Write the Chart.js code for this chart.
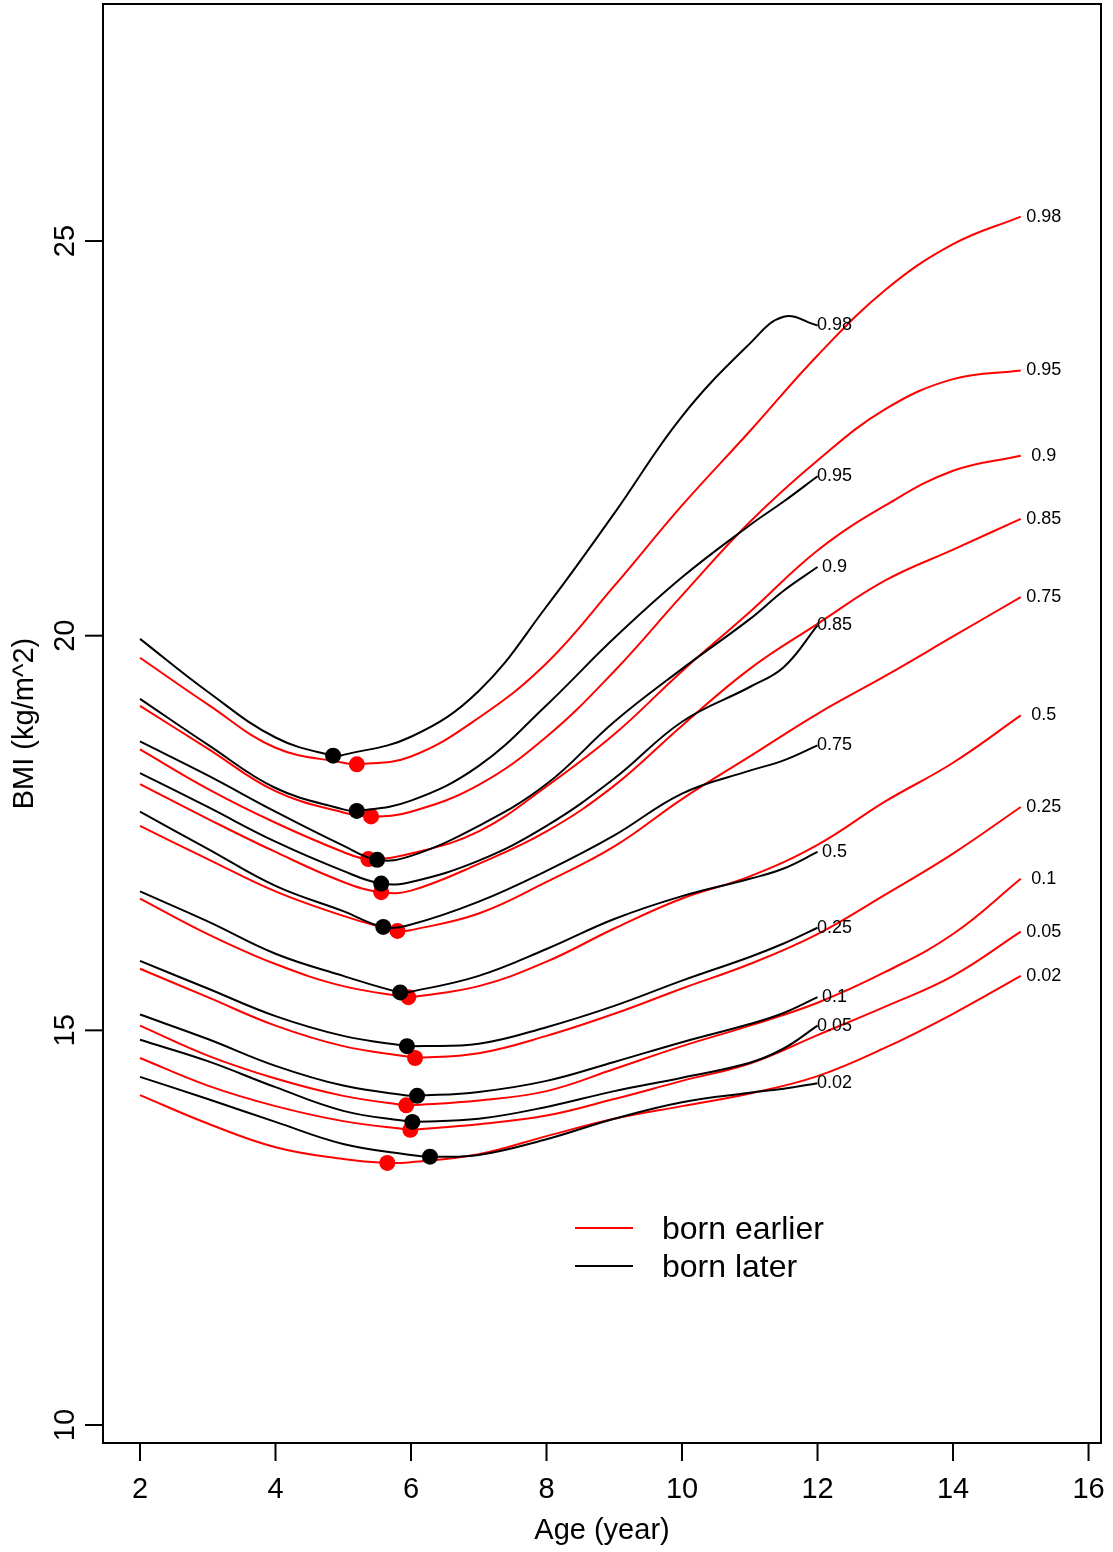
<!DOCTYPE html>
<html>
<head>
<meta charset="utf-8">
<title>BMI quantile curves</title>
<script src="https://cdn.jsdelivr.net/npm/chart.js@4.4.0/dist/chart.umd.min.js"></script>
<style>
  html, body { margin: 0; padding: 0; background: #fff; }
  canvas { display: block; }
</style>
</head>
<body>
<canvas id="bmiChart" width="1113" height="1552"></canvas>
<script>
// Quantiles, lowest to highest
const quantiles = ['0.02', '0.05', '0.1', '0.25', '0.5', '0.75', '0.85', '0.9', '0.95', '0.98'];

// Born earlier: BMI at each age
const earlierAges = [2, 3, 4, 5, 6, 7, 8, 9, 10, 11, 12, 13, 14, 15];
const earlier02 = [14.18, 13.82, 13.52, 13.37, 13.33, 13.43, 13.66, 13.88, 14.04, 14.20, 14.42, 14.78, 15.21, 15.69];
const earlier05 = [14.65, 14.30, 14.04, 13.85, 13.74, 13.81, 13.92, 14.13, 14.36, 14.58, 14.94, 15.30, 15.69, 16.25];
const earlier10 = [15.06, 14.68, 14.39, 14.17, 14.05, 14.11, 14.23, 14.51, 14.80, 15.06, 15.35, 15.74, 16.22, 16.92];
const earlier25 = [15.78, 15.42, 15.06, 14.80, 14.66, 14.71, 14.93, 15.21, 15.53, 15.84, 16.22, 16.72, 17.24, 17.83];
const earlier50 = [16.67, 16.22, 15.84, 15.56, 15.42, 15.56, 15.87, 16.29, 16.67, 16.95, 17.35, 17.90, 18.39, 18.99];
const earlier75 = [17.59, 17.17, 16.76, 16.45, 16.27, 16.48, 16.88, 17.33, 17.93, 18.47, 19.01, 19.49, 19.99, 20.49];
const earlier85 = [18.12, 17.68, 17.26, 16.88, 16.77, 17.11, 17.52, 18.10, 18.86, 19.58, 20.15, 20.70, 21.09, 21.48];
const earlier90 = [18.56, 18.06, 17.63, 17.26, 17.24, 17.52, 18.09, 18.75, 19.55, 20.30, 21.08, 21.65, 22.09, 22.28];
const earlier95 = [19.11, 18.57, 18.03, 17.76, 17.77, 18.11, 18.72, 19.55, 20.51, 21.44, 22.22, 22.87, 23.25, 23.36];
const earlier98 = [19.72, 19.13, 18.58, 18.39, 18.47, 18.96, 19.65, 20.63, 21.65, 22.59, 23.55, 24.38, 24.96, 25.31];

// Born later: BMI at each age
const laterAges = [2, 3, 4, 5, 6, 7, 8, 9, 10, 11, 11.5, 12];
const later02 = [14.41, 14.13, 13.84, 13.56, 13.42, 13.42, 13.62, 13.88, 14.09, 14.21, 14.26, 14.33];
const later05 = [14.88, 14.61, 14.28, 13.98, 13.84, 13.88, 14.03, 14.23, 14.40, 14.59, 14.77, 15.06];
const later10 = [15.20, 14.89, 14.55, 14.30, 14.17, 14.22, 14.36, 14.60, 14.85, 15.08, 15.22, 15.42];
const later25 = [15.88, 15.53, 15.18, 14.93, 14.80, 14.83, 15.04, 15.31, 15.63, 15.93, 16.10, 16.30];
const later50 = [16.76, 16.38, 15.97, 15.69, 15.49, 15.69, 16.03, 16.41, 16.70, 16.92, 17.05, 17.26];
const later75 = [17.77, 17.30, 16.83, 16.51, 16.34, 16.63, 17.02, 17.47, 18.00, 18.29, 18.42, 18.61];
const later85 = [18.26, 17.83, 17.39, 17.02, 16.88, 17.15, 17.59, 18.19, 18.91, 19.35, 19.60, 20.13];
const later90 = [18.66, 18.23, 17.77, 17.34, 17.21, 17.59, 18.12, 18.91, 19.58, 20.21, 20.57, 20.87];
const later95 = [19.20, 18.62, 18.07, 17.80, 17.91, 18.35, 19.12, 19.97, 20.74, 21.40, 21.70, 22.02];
const later98 = [19.96, 19.29, 18.71, 18.49, 18.72, 19.30, 20.37, 21.55, 22.78, 23.70, 24.04, 23.93];

// Minimum of each curve (adiposity rebound), same order as quantiles
const earlierReboundAge = [5.65, 5.99, 5.93, 6.06, 5.96, 5.80, 5.56, 5.37, 5.41, 5.20];
const earlierReboundBmi = [13.32, 13.74, 14.05, 14.65, 15.42, 16.26, 16.75, 17.17, 17.71, 18.37];
const laterReboundAge = [6.28, 6.02, 6.09, 5.94, 5.84, 5.59, 5.56, 5.50, 5.20, 4.85];
const laterReboundBmi = [13.40, 13.84, 14.17, 14.80, 15.48, 16.31, 16.86, 17.16, 17.78, 18.48];

const xTicks = [2, 4, 6, 8, 10, 12, 14, 16];
const yTicks = [10, 15, 20, 25];

const earlierSeries = [earlier02, earlier05, earlier10, earlier25, earlier50, earlier75, earlier85, earlier90, earlier95, earlier98];
const laterSeries = [later02, later05, later10, later25, later50, later75, later85, later90, later95, later98];

const RED = '#ff0000';
const BLACK = '#000000';
const FONT = '"Liberation Sans", Arial, Helvetica, sans-serif';

// curve points plus the rebound point, in age order
function curvePoints(ages, values, rAge, rBmi) {
    const pts = ages.map((a, i) => ({ x: a, y: values[i] }));
    pts.push({ x: rAge, y: rBmi });
    pts.sort((p, q) => p.x - q.x);
    return pts;
}

function lineSet(ages, values, rAge, rBmi, color, order) {
    return {
        data: curvePoints(ages, values, rAge, rBmi),
        showLine: true,
        borderColor: color,
        borderWidth: 2,
        pointRadius: 0,
        tension: 0.4,
        order: order
    };
}

function dotSet(ageArr, bmiArr, color, order) {
    return {
        data: ageArr.map((a, i) => ({ x: a, y: bmiArr[i] })),
        showLine: false,
        pointRadius: 8,
        pointBackgroundColor: color,
        pointBorderWidth: 0,
        order: order
    };
}

const datasets = [];
quantiles.forEach((q, i) => {
    datasets.push(lineSet(earlierAges, earlierSeries[i], earlierReboundAge[i], earlierReboundBmi[i], RED, 4));
    datasets.push(lineSet(laterAges, laterSeries[i], laterReboundAge[i], laterReboundBmi[i], BLACK, 2));
});
datasets.push(dotSet(earlierReboundAge, earlierReboundBmi, RED, 3));
datasets.push(dotSet(laterReboundAge, laterReboundBmi, BLACK, 1));

// Box, axes, curve labels and legend
const frame = {
    id: 'frame',
    afterDraw(chart) {
        const { ctx, chartArea: a, scales: { x, y } } = chart;
        ctx.save();
        ctx.strokeStyle = '#000';
        ctx.fillStyle = '#000';
        ctx.lineWidth = 2;
        ctx.strokeRect(a.left, a.top, a.right - a.left, a.bottom - a.top);

        // x axis
        ctx.font = '29px ' + FONT;
        ctx.textAlign = 'center';
        ctx.textBaseline = 'alphabetic';
        xTicks.forEach(t => {
            const px = x.getPixelForValue(t);
            ctx.beginPath();
            ctx.moveTo(px, a.bottom);
            ctx.lineTo(px, a.bottom + 18);
            ctx.stroke();
            ctx.fillText(String(t), px, a.bottom + 55);
        });
        ctx.fillText('Age (year)', (a.left + a.right) / 2, a.bottom + 96);

        // y axis, labels turned
        yTicks.forEach(t => {
            const py = y.getPixelForValue(t);
            ctx.beginPath();
            ctx.moveTo(a.left, py);
            ctx.lineTo(a.left - 18, py);
            ctx.stroke();
            ctx.save();
            ctx.translate(a.left - 29, py);
            ctx.rotate(-Math.PI / 2);
            ctx.fillText(String(t), 0, 0);
            ctx.restore();
        });
        ctx.save();
        ctx.translate(33, (a.top + a.bottom) / 2);
        ctx.rotate(-Math.PI / 2);
        ctx.fillText('BMI (kg/m^2)', 0, 0);
        ctx.restore();

        // quantile labels at the curve ends
        ctx.font = '18px ' + FONT;
        ctx.textBaseline = 'middle';
        quantiles.forEach((q, i) => {
            const e = earlierSeries[i];
            const l = laterSeries[i];
            ctx.fillText(q, x.getPixelForValue(15.34), y.getPixelForValue(e[e.length - 1]));
            ctx.fillText(q, x.getPixelForValue(12.25), y.getPixelForValue(l[l.length - 1]));
        });

        // legend
        const legendItems = [['born earlier', RED], ['born later', BLACK]];
        ctx.font = '32px ' + FONT;
        ctx.textAlign = 'left';
        ctx.textBaseline = 'alphabetic';
        legendItems.forEach((item, i) => {
            const ly = 1228 + i * 38;
            ctx.strokeStyle = item[1];
            ctx.beginPath();
            ctx.moveTo(575, ly);
            ctx.lineTo(633, ly);
            ctx.stroke();
            ctx.fillStyle = '#000';
            ctx.fillText(item[0], 662, ly + 11);
        });
        ctx.restore();
    }
};

const bmiChart = new Chart(document.getElementById('bmiChart').getContext('2d'), {
    type: 'scatter',
    data: { datasets: datasets },
    options: {
        responsive: false,
        animation: false,
        devicePixelRatio: 1,
        events: [],
        layout: { autoPadding: false, padding: { left: 103, right: 12, top: 4, bottom: 109 } },
        scales: {
            x: { type: 'linear', min: 1.454, max: 16.184, display: false },
            y: { type: 'linear', min: 9.772, max: 28.003, display: false }
        },
        plugins: {
            legend: { display: false },
            tooltip: { enabled: false }
        }
    },
    plugins: [frame]
});
</script>
</body>
</html>
